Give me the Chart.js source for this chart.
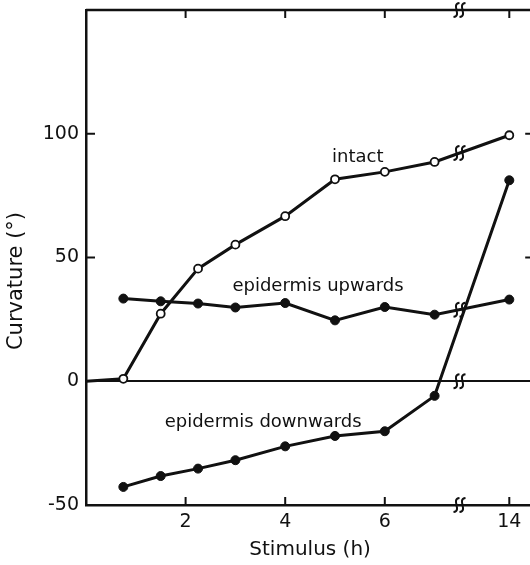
<!DOCTYPE html>
<html>
<head>
<meta charset="utf-8">
<script src="https://cdn.jsdelivr.net/npm/chart.js@4.4.1/dist/chart.umd.min.js"></script>
<style>
  html, body { margin: 0; padding: 0; background: #fff; overflow: hidden; }
  canvas { display: block; }
</style>
</head>
<body>
<canvas id="chart" width="540" height="565"></canvas>
<script>
// stimulus hours as plotted; the last point sits after the axis break (14 h)
const hours = [0.75, 1.5, 2.25, 3, 4, 5, 6, 7, 8.5];
const intactStart = { x: 0, y: 0 };
const intact = [1, 27.3, 45.5, 55.2, 66.7, 81.6, 84.6, 88.6, 99.4];
const epidermisUp = [33.4, 32.3, 31.4, 29.8, 31.6, 24.6, 30, 26.9, 33];
const epidermisDown = [-42.7, -38.3, -35.3, -31.9, -26.3, -22.1, -20.2, -5.9, 81.2];

const xTickValues = [2, 4, 6, 8.5];
const xTickLabels = ['2', '4', '6', '14'];
const yTickValues = [-50, 0, 50, 100];
const axisBreak = 7.5;

const seriesNames = ['intact', 'epidermis upwards', 'epidermis downwards'];
// where each name is written, in data units (left edge, middle)
const namePos = [[4.94, 90.5], [2.94, 38.4], [1.58, -16.6]];

const ink = '#111';
const toPoints = ys => hours.map((h, i) => ({ x: h, y: ys[i] }));

// value of a series at the break
function valueAtBreak(ys) {
  const i = hours.findIndex(h => h > axisBreak);
  const t = (axisBreak - hours[i - 1]) / (hours[i] - hours[i - 1]);
  return ys[i - 1] + t * (ys[i] - ys[i - 1]);
}

function drawBreak(ctx, cx, cy) {
  ctx.lineWidth = 2;
  [-3, 3].forEach(d => {
    const x0 = cx + d;
    ctx.beginPath();
    ctx.moveTo(x0 - 3, cy + 7);
    ctx.bezierCurveTo(x0 + 6, cy + 6, x0 - 6, cy - 6, x0 + 3, cy - 7);
    ctx.stroke();
  });
}

const framePlugin = {
  id: 'frame',
  afterDraw(chart) {
    const { ctx, chartArea: a, scales: { x, y } } = chart;
    ctx.save();
    ctx.strokeStyle = ink;
    ctx.fillStyle = ink;

    // top and right edges
    ctx.lineWidth = 2.5;
    ctx.beginPath();
    ctx.moveTo(a.left, a.top);
    ctx.lineTo(a.right, a.top);
    ctx.lineTo(a.right, a.bottom);
    ctx.stroke();

    // inward tick marks
    ctx.lineWidth = 2;
    const seg = (x1, y1, x2, y2) => { ctx.beginPath(); ctx.moveTo(x1, y1); ctx.lineTo(x2, y2); ctx.stroke(); };
    xTickValues.forEach(v => {
      const px = x.getPixelForValue(v);
      seg(px, a.bottom, px, a.bottom - 8);
      seg(px, a.top, px, a.top + 8);
    });
    yTickValues.filter(v => v > 0).forEach(v => {
      const py = y.getPixelForValue(v);
      seg(a.left, py, a.left + 9, py);
      seg(a.right, py, a.right - 9, py);
    });

    // axis break marks
    const bx = x.getPixelForValue(axisBreak);
    [a.top, y.getPixelForValue(0), a.bottom,
     y.getPixelForValue(valueAtBreak(intact)),
     y.getPixelForValue(valueAtBreak(epidermisUp))].forEach(py => drawBreak(ctx, bx, py));

    // series names
    ctx.font = '18px "DejaVu Sans"';
    ctx.textAlign = 'left';
    ctx.textBaseline = 'middle';
    seriesNames.forEach((name, i) => {
      ctx.fillText(name, x.getPixelForValue(namePos[i][0]), y.getPixelForValue(namePos[i][1]));
    });

    // y axis title
    ctx.font = '21px "DejaVu Sans"';
    ctx.textAlign = 'center';
    ctx.translate(17, 281);
    ctx.rotate(-Math.PI / 2);
    ctx.fillText('Curvature (°)', 0, 0);
    ctx.restore();
  }
};

const lineStyle = { borderColor: ink, borderWidth: 3, tension: 0, pointBorderColor: ink };

new Chart(document.getElementById('chart').getContext('2d'), {
  type: 'line',
  data: {
    datasets: [
      { ...lineStyle, label: seriesNames[0], data: [intactStart, ...toPoints(intact)],
        pointRadius: c => c.dataIndex === 0 ? 0 : 4, pointBackgroundColor: '#fff', pointBorderWidth: 1.8 },
      { ...lineStyle, label: seriesNames[1], data: toPoints(epidermisUp),
        pointRadius: 4.5, pointBackgroundColor: ink, pointBorderWidth: 1 },
      { ...lineStyle, label: seriesNames[2], data: toPoints(epidermisDown),
        pointRadius: 4.5, pointBackgroundColor: ink, pointBorderWidth: 1 }
    ]
  },
  options: {
    responsive: false,
    animation: false,
    devicePixelRatio: 1,
    layout: { padding: { top: 10, right: 4, left: 0, bottom: 0 } },
    plugins: { legend: { display: false }, tooltip: { enabled: false } },
    scales: {
      x: {
        type: 'linear', min: 0, max: 9,
        afterBuildTicks: s => { s.ticks = xTickValues.map(v => ({ value: v })); },
        afterFit: s => { s.height = 60; s.paddingLeft = 0; s.paddingRight = 0; },
        grid: { display: false, drawTicks: false },
        border: { display: true, color: ink, width: 2.5 },
        ticks: {
          color: ink, font: { family: 'DejaVu Sans', size: 19 }, padding: 6,
          maxRotation: 0, autoSkip: false,
          callback: v => xTickLabels[xTickValues.indexOf(v)] ?? ''
        },
        title: { display: true, text: 'Stimulus (h)', color: ink,
          font: { family: 'DejaVu Sans', size: 20 }, padding: { top: 0, bottom: 3 } }
      },
      y: {
        min: -50, max: 150,
        afterBuildTicks: s => { s.ticks = yTickValues.map(v => ({ value: v })); },
        afterFit: s => { s.width = 86; s.paddingTop = 0; s.paddingBottom = 0; },
        grid: { drawTicks: false, lineWidth: 2,
          color: c => (c.tick && c.tick.value === 0) ? ink : 'rgba(0,0,0,0)' },
        border: { display: true, color: ink, width: 2.5 },
        ticks: { color: ink, font: { family: 'DejaVu Sans', size: 19 }, padding: 7 }
      }
    }
  },
  plugins: [framePlugin]
});
</script>
</body>
</html>
